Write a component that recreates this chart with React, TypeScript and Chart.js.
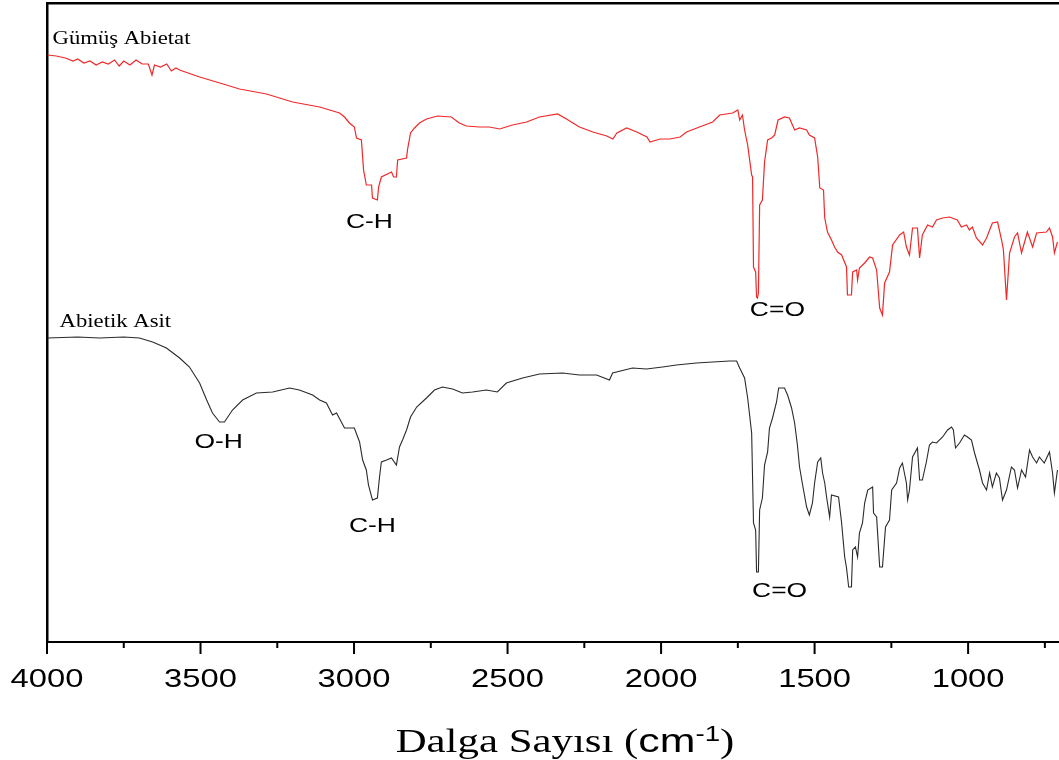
import React, { useEffect, useRef } from 'react';
import { Chart, registerables } from 'chart.js';

Chart.register(...registerables);

// Gümüş Abietat (red) — [wavenumber cm-1, transmittance a.u. (offset trace)]
const SILVER_ABIETATE: [number, number][] = [
  [3998, 587], [3970, 586], [3940, 584], [3915, 581], [3900, 583], [3880, 579], [3860, 581], [3840, 577],
  [3820, 580], [3800, 578], [3780, 582], [3765, 576], [3750, 581], [3730, 577], [3710, 582], [3690, 578],
  [3670, 578], [3658, 567], [3650, 577], [3630, 575], [3610, 578], [3595, 571], [3580, 574], [3568, 572],
  [3503, 565], [3448, 560], [3373, 553], [3285, 548],
  [3200, 540], [3112, 535], [3047, 529], [3031, 525], [3015, 519], [2999, 515], [2992, 504], [2976, 502],
  [2969, 472], [2960, 457], [2943, 457], [2940, 444], [2924, 442], [2920, 455], [2911, 465], [2878, 470],
  [2871, 465], [2862, 465], [2858, 482], [2829, 484], [2826, 492], [2816, 509], [2803, 514], [2787, 519],
  [2764, 523], [2728, 526], [2683, 525], [2657, 519], [2634, 516], [2592, 515], [2559, 515], [2526, 513],
  [2484, 517], [2438, 520], [2396, 525], [2337, 528], [2308, 523], [2266, 515], [2222, 510], [2177, 506],
  [2157, 503], [2144, 509], [2112, 514], [2079, 510], [2046, 505], [2036, 500], [2003, 503], [1971, 503],
  [1938, 505], [1917, 510], [1875, 515], [1832, 520], [1809, 527], [1767, 529], [1750, 532], [1744, 522],
  [1735, 527], [1728, 512], [1718, 497], [1705, 467], [1702, 465], [1699, 375], [1692, 370], [1689, 345],
  [1686, 344], [1683, 349], [1679, 437], [1670, 442], [1663, 480], [1653, 502], [1640, 504], [1630, 507],
  [1619, 522], [1598, 525], [1582, 524], [1565, 512], [1549, 514], [1526, 512], [1517, 507], [1500, 504],
  [1490, 485], [1483, 454], [1471, 452], [1467, 424], [1458, 410], [1445, 402], [1435, 395], [1425, 390],
  [1412, 387], [1396, 375], [1393, 347], [1380, 347], [1376, 370], [1363, 372], [1360, 362], [1354, 374],
  [1337, 379], [1321, 385], [1311, 384], [1298, 372], [1288, 334], [1279, 327], [1272, 359], [1256, 370],
  [1246, 397], [1223, 407], [1210, 410], [1201, 395], [1191, 387], [1181, 414], [1165, 414], [1158, 384],
  [1149, 407], [1132, 417], [1116, 415], [1103, 422], [1083, 424], [1061, 425], [1035, 422], [1022, 415],
  [1005, 417], [996, 412], [986, 415], [973, 404], [953, 397], [940, 404], [921, 419], [904, 420],
  [891, 402], [885, 392], [875, 342], [865, 389], [849, 405], [839, 409], [826, 389], [807, 410],
  [790, 395], [777, 409], [745, 410], [735, 414], [725, 405], [719, 389], [709, 400],
];

// Abietik Asit (black)
const ABIETIC_ACID: [number, number][] = [
  [3998, 304], [3900, 305], [3829, 304], [3750, 305], [3699, 304], [3656, 300], [3611, 294], [3568, 284],
  [3536, 275], [3503, 259], [3480, 242], [3461, 229], [3438, 220], [3422, 220], [3396, 232], [3363, 242],
  [3318, 249], [3265, 250], [3210, 254], [3178, 252], [3135, 247], [3112, 242], [3090, 239], [3070, 227],
  [3057, 229], [3031, 214], [2999, 214], [2982, 200], [2972, 182], [2960, 172], [2953, 157], [2940, 142],
  [2924, 144], [2917, 165], [2911, 180], [2894, 182], [2878, 184], [2862, 177], [2852, 195], [2842, 202],
  [2829, 212], [2816, 225], [2796, 235], [2764, 244], [2738, 252], [2712, 255], [2679, 253], [2647, 249],
  [2614, 250], [2569, 252], [2533, 250], [2504, 259], [2451, 264], [2396, 268], [2321, 269], [2266, 267],
  [2210, 267], [2168, 262], [2158, 269], [2093, 274], [2048, 273], [1995, 275], [1950, 277], [1885, 279],
  [1832, 280], [1777, 281], [1754, 281], [1744, 274], [1728, 264], [1718, 244], [1705, 209], [1699, 119],
  [1692, 112], [1689, 70], [1683, 70], [1679, 132], [1670, 144], [1663, 177], [1653, 190], [1647, 214],
  [1637, 224], [1624, 240], [1617, 254], [1598, 254], [1588, 247], [1575, 234], [1565, 219], [1556, 197],
  [1549, 175], [1539, 157], [1526, 135], [1517, 127], [1507, 139], [1500, 159], [1490, 180], [1480, 184],
  [1474, 169], [1467, 159], [1461, 145], [1451, 125], [1445, 147], [1422, 145], [1412, 119], [1402, 85],
  [1396, 74], [1389, 55], [1380, 55], [1376, 92], [1367, 95], [1360, 85], [1354, 109], [1344, 119],
  [1337, 139], [1327, 152], [1311, 155], [1308, 129], [1298, 125], [1288, 75], [1279, 75], [1269, 115],
  [1256, 122], [1249, 152], [1233, 159], [1223, 174], [1214, 179], [1201, 159], [1197, 142], [1191, 152],
  [1181, 185], [1165, 194], [1158, 162], [1149, 162], [1136, 180], [1126, 197], [1116, 200], [1103, 199],
  [1083, 205], [1067, 212], [1054, 215], [1048, 212], [1041, 194], [1028, 199], [1012, 207], [1002, 205],
  [989, 202], [979, 189], [963, 172], [953, 159], [940, 152], [930, 169], [921, 155], [908, 169],
  [898, 164], [888, 142], [875, 152], [859, 175], [849, 172], [839, 154], [826, 172], [813, 165],
  [800, 192], [790, 185], [777, 179], [768, 185], [752, 179], [735, 190], [725, 169], [719, 149],
  [709, 172],
];

const X_MAJOR_TICKS = [4000, 3500, 3000, 2500, 2000, 1500, 1000];
const X_MINOR_TICKS = [3750, 3250, 2750, 2250, 1750, 1250, 750];
const X_MIN = 704;
const X_MAX = 4000;
const Y_MIN = 0;
const Y_MAX = 639;

const SERIES_NAMES = ['Gümüş Abietat', 'Abietik Asit'];
const SERIES_COLORS = ['#f02828', '#2a2a2a'];
const SERIES_NAME_WN = [3982, 3959];
const SERIES_NAME_Y = [598, 315];

const PEAK_TEXT = ['C-H', 'C=O', 'O-H', 'C-H', 'C=O'];
const PEAK_WN = [2950, 1621, 3441, 2940, 1614];
const PEAK_Y = [414, 326, 194, 110, 45];

const X_TITLE_PARTS = ['Dalga Sayısı (', 'cm', '-1', ')'];

const STRETCH = 1.26;
const SANS = "'Liberation Sans', Arial, sans-serif";
const SERIF = "'Liberation Serif', 'Times New Roman', serif";

function drawText(ctx: CanvasRenderingContext2D, text: string, x: number, y: number, font: string, align: CanvasTextAlign) {
  ctx.save();
  ctx.translate(x, y);
  ctx.scale(STRETCH, 1);
  ctx.font = font;
  ctx.textAlign = align;
  ctx.textBaseline = 'alphabetic';
  ctx.fillStyle = '#000';
  ctx.fillText(text, 0, 0);
  ctx.restore();
}

const decorPlugin = {
  id: 'decor',
  afterDraw(chart: any) {
    const ctx: CanvasRenderingContext2D = chart.ctx;
    const xs = chart.scales.x;
    const ys = chart.scales.y;
    const bottom = chart.chartArea.bottom;
    ctx.save();
    ctx.strokeStyle = '#000';
    ctx.lineWidth = 2;
    ctx.beginPath();
    X_MAJOR_TICKS.forEach((v) => {
      const px = xs.getPixelForValue(v);
      ctx.moveTo(px, bottom);
      ctx.lineTo(px, bottom + 12);
    });
    X_MINOR_TICKS.forEach((v) => {
      const px = xs.getPixelForValue(v);
      ctx.moveTo(px, bottom);
      ctx.lineTo(px, bottom + 6);
    });
    ctx.stroke();
    ctx.restore();

    X_MAJOR_TICKS.forEach((v) => {
      drawText(ctx, String(v), xs.getPixelForValue(v), bottom + 45, `26px ${SANS}`, 'center');
    });

    SERIES_NAMES.forEach((name, i) => {
      drawText(ctx, name, xs.getPixelForValue(SERIES_NAME_WN[i]), ys.getPixelForValue(SERIES_NAME_Y[i]), `18px ${SERIF}`, 'left');
    });

    PEAK_TEXT.forEach((t, i) => {
      drawText(ctx, t, xs.getPixelForValue(PEAK_WN[i]), ys.getPixelForValue(PEAK_Y[i]), `21px ${SANS}`, 'center');
    });

    // axis title with superscript
    const fonts = [`34px ${SERIF}`, `34px ${SANS}`, `22px ${SANS}`, `34px ${SERIF}`];
    const rise = [0, 0, -11, 0];
    ctx.save();
    const widths = X_TITLE_PARTS.map((p, i) => {
      ctx.font = fonts[i];
      return ctx.measureText(p).width * STRETCH;
    });
    ctx.restore();
    const total = widths.reduce((a, b) => a + b, 0);
    const cx = (chart.chartArea.left + chart.chartArea.right) / 2 + 12;
    let x = cx - total / 2;
    const base = bottom + 110;
    X_TITLE_PARTS.forEach((p, i) => {
      drawText(ctx, p, x, base + rise[i], fonts[i], 'left');
      x += widths[i];
    });
  },
};

export default function App() {
  const ref = useRef<HTMLCanvasElement | null>(null);

  useEffect(() => {
    if (!ref.current) return;
    const chart = new Chart(ref.current, {
      type: 'line',
      data: {
        datasets: [
          {
            label: SERIES_NAMES[0],
            data: SILVER_ABIETATE.map(([x, y]) => ({ x, y })),
            borderColor: SERIES_COLORS[0],
            borderWidth: 1.2,
            pointRadius: 0,
            tension: 0,
            fill: false,
          },
          {
            label: SERIES_NAMES[1],
            data: ABIETIC_ACID.map(([x, y]) => ({ x, y })),
            borderColor: SERIES_COLORS[1],
            borderWidth: 1.1,
            pointRadius: 0,
            tension: 0,
            fill: false,
          },
        ],
      },
      options: {
        animation: false,
        responsive: false,
        layout: { padding: { left: 47, top: 3, right: 0, bottom: 118 } },
        plugins: { legend: { display: false }, tooltip: { enabled: false }, title: { display: false } },
        scales: {
          x: {
            type: 'linear',
            position: 'bottom',
            min: X_MIN,
            max: X_MAX,
            reverse: true,
            ticks: { display: false },
            grid: { display: false, drawTicks: false, tickLength: 0 },
            border: { display: true, color: '#000', width: 2 },
          },
          x2: {
            type: 'linear',
            position: 'top',
            min: X_MIN,
            max: X_MAX,
            reverse: true,
            ticks: { display: false },
            grid: { display: false, drawTicks: false, tickLength: 0 },
            border: { display: true, color: '#000', width: 2.5 },
          },
          y: {
            type: 'linear',
            min: Y_MIN,
            max: Y_MAX,
            ticks: { display: false },
            grid: { display: false, drawTicks: false, tickLength: 0 },
            border: { display: true, color: '#000', width: 2.5 },
          },
        },
      },
      plugins: [decorPlugin],
    });
    return () => chart.destroy();
  }, []);

  return (
    <div style={{ position: 'absolute', left: 0, top: 0, width: 1059, height: 760, background: '#fff' }}>
      <canvas ref={ref} width={1059} height={760} style={{ display: 'block' }} />
    </div>
  );
}
